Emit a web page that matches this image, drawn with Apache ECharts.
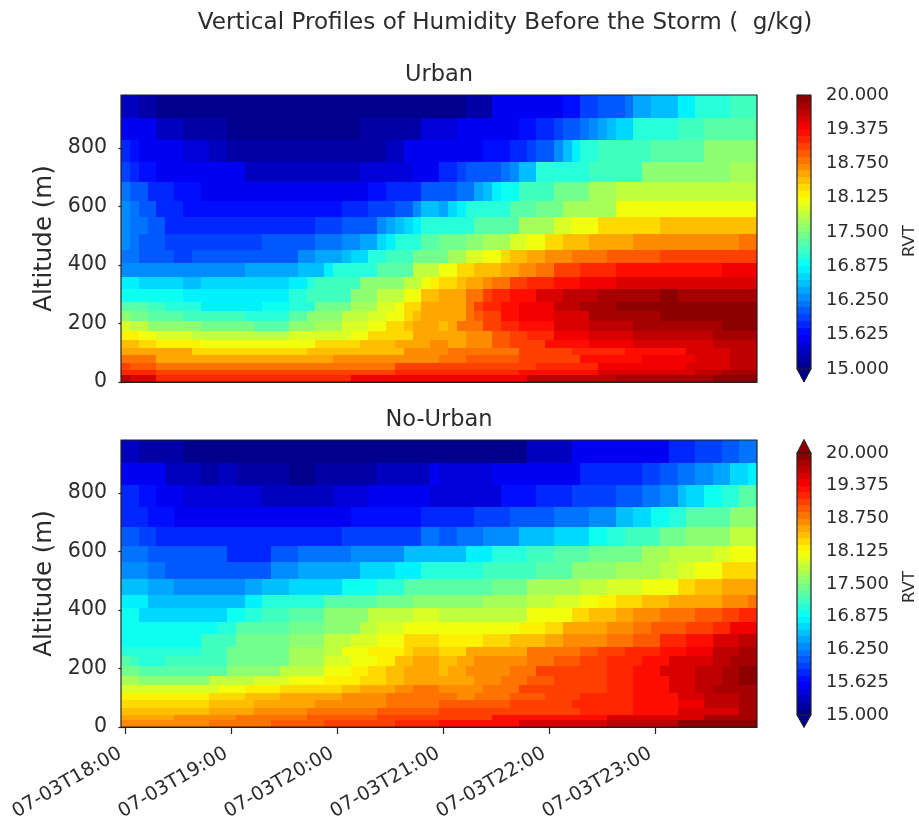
<!DOCTYPE html>
<html><head><meta charset="utf-8">
<script src="https://cdn.jsdelivr.net/npm/echarts@6/dist/echarts.min.js"></script>
<style>html,body{margin:0;padding:0;background:#fff}#c{width:919px;height:819px;filter:blur(.5px)}</style>
</head><body><div id="c"></div>
<script>
// Altitude cell edges (m), top of the picture downward
const altitudeEdges = [981,901,827,753,683,620,563,506,452,406,358,317,275,241,207,173,144,116,91,65,42,23,0];
const timeLabels = ['07-03T18:00','07-03T19:00','07-03T20:00','07-03T21:00','07-03T22:00','07-03T23:00'];
const timeTicks = [0,60,120,180,240,300];     // minutes after 18:00
const stepMinutes = 5, columnCount = 72;
const levelMin = 15, levelMax = 20, levelCount = 40;
// Each row, top to bottom, as value, end-column pairs
const urbanRows = [
[15.25,2,15.2,4,15.1,7,15,39,15.2,42,15.5,50,15.7,52,15.9,54,16,57,16.2,58,16.4,60,16.5,61,16.6,63,16.8,65,17,69,17.2,72],
[15.55,2,15.5,4,15.35,7,15.2,12,15.1,17,15,20,15.1,26,15,27,15.15,32,15.2,34,15.4,38,15.55,45,15.7,47,15.8,49,15.9,50,16,52,16.2,53,16.3,54,16.4,55,16.5,56,16.7,58,17,60,17.1,63,17.2,66,17.35,72],
[15.75,1,15.7,2,15.6,4,15.55,7,15.45,10,15.35,12,15.2,30,15.35,32,15.5,36,15.55,39,15.5,41,15.65,44,15.75,46,15.9,47,16.1,49,16.3,50,16.5,51,16.8,52,17,54,17.15,60,17.35,66,17.5,72],
[15.9,1,15.85,2,15.7,4,15.6,7,15.5,14,15.25,27,15.4,33,15.6,36,15.8,38,15.95,39,16,41,16.1,43,16.2,44,16.3,45,16.5,47,17,53,17.2,59,17.5,65,17.6,69,17.7,72],
[16.15,1,16.05,3,15.85,6,15.7,9,15.6,15,15.5,26,15.55,28,15.7,30,15.8,34,16,35,16.1,36,16,37,16.1,38,16.2,40,16.4,41,16.6,42,16.75,43,16.95,45,17.15,49,17.45,53,17.65,56,17.8,72],
[16.25,1,16.15,2,16,4,15.85,7,15.7,25,15.8,28,15.95,31,16.1,33,16.3,34,16.5,36,16.4,37,16.65,38,16.8,39,17,41,17.1,44,17.25,47,17.4,50,17.7,56,18,72],
[16.25,1,16.15,3,16,5,15.8,22,15.95,25,16.05,29,16.25,30,16.45,31,16.6,32,16.7,33,16.85,34,17,36,17.1,40,17.35,45,17.65,49,17.9,51,18.1,54,18.3,61,18.45,72],
[16.25,1,16.2,2,16.05,5,15.95,16,16.05,22,16.15,25,16.3,27,16.4,29,16.65,30,16.85,31,17.1,34,17.3,36,17.4,39,17.55,41,17.7,44,17.95,46,18.1,48,18.3,50,18.45,53,18.55,58,18.7,70,18.8,72],
[16.15,2,16.1,6,15.95,8,16.1,20,16.25,22,16.4,25,16.5,26,16.7,28,17,30,17.2,33,17.4,36,17.45,37,17.7,39,17.95,41,18.1,43,18.3,44,18.4,46,18.5,48,18.65,51,18.75,55,18.9,61,19,72],
[16.3,14,16.45,20,16.6,23,16.8,24,17.1,29,17.35,33,17.75,36,18,37,18.1,38,18.25,40,18.4,41,18.45,43,18.6,45,18.7,47,18.85,49,19,52,19.15,56,19.3,68,19.45,72],
[16.75,2,16.65,7,16.5,9,16.65,19,16.8,21,17,22,17.2,27,17.5,32,17.8,34,18.05,35,18.2,36,18.25,37,18.35,38,18.45,39,18.6,41,18.7,42,18.85,44,19,46,19.15,49,19.3,52,19.45,56,19.6,72],
[16.95,7,16.75,19,17,21,17.2,26,17.5,29,17.75,32,18.1,34,18.45,36,18.5,37,18.6,39,18.75,40,18.85,41,19,42,19.15,44,19.3,47,19.5,50,19.65,54,19.75,61,19.9,63,19.8,72],
[17.3,1,17.25,3,17.15,5,17,9,16.85,16,16.95,19,17.1,22,17.4,26,17.65,29,17.9,31,18.1,32,18.3,34,18.5,36,18.55,38,18.6,39,18.8,40,19,41,19.15,43,19.3,45,19.45,49,19.65,52,19.8,56,19.9,61,20,72],
[17.6,1,17.45,3,17.35,5,17.3,7,17.2,14,17.1,19,17.25,21,17.5,25,17.75,28,17.95,30,18.1,32,18.25,33,18.4,34,18.5,37,18.6,39,18.8,40,18.95,41,19.1,43,19.3,45,19.45,49,19.6,53,19.8,58,19.85,61,19.95,72],
[17.9,1,17.75,3,17.6,5,17.5,9,17.4,15,17.35,19,17.5,22,17.7,25,17.95,28,18.05,30,18.25,32,18.4,33,18.5,36,18.4,37,18.55,38,18.75,41,19,43,19.2,45,19.35,49,19.55,53,19.7,58,19.8,68,19.9,72],
[18.2,2,18.05,4,17.9,8,17.8,14,17.75,19,17.9,26,18.1,28,18.25,31,18.35,33,18.5,39,18.7,42,18.9,44,19.05,46,19.2,49,19.4,53,19.55,58,19.7,67,19.8,72],
[18.4,2,18.3,4,18.2,9,18.1,22,18.25,27,18.4,31,18.55,35,18.7,36,18.65,37,18.6,39,18.7,42,18.9,44,19.05,48,19.25,53,19.45,58,19.6,67,19.7,72],
[18.6,2,18.5,8,18.3,21,18.45,32,18.65,36,18.7,37,18.75,39,18.8,45,19,51,19.2,57,19.35,64,19.5,69,19.65,72],
[18.75,4,18.6,24,18.7,36,18.85,39,18.9,45,19.1,52,19.25,59,19.4,65,19.5,69,19.7,72],
[19.05,1,18.95,4,18.85,31,19,39,19.1,47,19.2,54,19.4,64,19.55,69,19.7,72],
[19.2,1,19.15,4,19.05,26,19.1,31,19.2,45,19.35,54,19.5,65,19.7,68,19.85,72],
[19.7,1,19.5,4,19.2,26,19.4,36,19.45,46,19.65,56,19.8,67,19.95,72]
];
const noUrbanRows = [
[15.3,2,15.2,4,15.15,7,15.1,17,15,27,15.1,36,15,40,15.1,46,15.3,51,15.5,59,15.6,62,15.75,65,15.9,68,16,70,16.2,72],
[15.55,2,15.5,5,15.3,9,15.15,11,15.3,13,15.15,19,15,22,15.15,29,15.3,35,15.5,36,15.45,42,15.55,47,15.6,52,15.8,59,15.9,61,16,63,16.15,65,16.3,67,16.45,69,16.65,71,16.8,72],
[15.75,2,15.65,4,15.55,7,15.45,16,15.3,24,15.45,28,15.55,35,15.45,43,15.65,47,15.75,51,15.9,56,16.05,59,16.2,61,16.3,63,16.5,64,16.65,66,16.9,68,17.1,70,17.25,72],
[15.85,1,15.8,3,15.7,6,15.6,12,15.5,23,15.55,26,15.65,34,15.8,36,15.85,40,15.95,44,16.05,49,16.2,53,16.35,56,16.5,58,16.65,60,16.95,62,17.1,64,17.3,67,17.35,69,17.5,72],
[16.05,2,15.95,4,15.85,7,15.75,21,15.85,25,15.95,34,16.15,36,16.1,38,16.2,41,16.3,45,16.5,49,16.7,53,16.95,55,17.05,57,17.2,61,17.4,64,17.55,69,17.75,72],
[16.2,3,16.1,5,16,12,15.85,17,16,20,16.15,26,16.3,32,16.5,36,16.6,39,16.8,42,17,46,17.15,49,17.3,53,17.45,59,17.65,62,17.75,67,17.9,69,18.05,72],
[16.35,3,16.2,5,16.1,17,16.25,20,16.4,27,16.65,31,16.8,34,17,37,17.05,41,17.2,47,17.35,51,17.5,56,17.65,61,17.8,63,17.9,65,18.1,68,18.3,72],
[16.6,3,16.4,6,16.25,14,16.4,16,16.55,19,16.7,25,16.95,29,17.1,32,17.3,39,17.35,42,17.45,46,17.65,52,17.8,55,17.95,59,18.1,63,18.3,65,18.4,68,18.5,72],
[16.85,1,16.8,3,16.6,14,16.75,16,17,19,17.1,23,17.25,26,17.3,29,17.4,33,17.55,38,17.6,41,17.7,46,17.8,49,17.95,52,18.05,54,18.15,56,18.3,59,18.45,62,18.55,65,18.6,68,18.7,71,18.8,72],
[16.95,2,16.7,12,16.9,14,17.05,16,17.15,19,17.35,23,17.5,26,17.6,28,17.8,33,17.9,36,17.8,41,17.85,46,18,49,18.1,51,18.25,53,18.4,56,18.55,58,18.65,61,18.75,65,18.9,68,19.05,70,19.15,72],
[16.9,11,17.1,13,17.25,19,17.45,23,17.6,27,17.8,29,17.95,32,18,35,18.1,36,18.05,37,18,40,18.05,45,18.2,48,18.35,50,18.5,53,18.55,55,18.7,58,18.75,60,18.9,64,19.05,67,19.2,69,19.4,72],
[16.95,9,17.15,13,17.4,19,17.6,23,17.75,26,17.95,29,18.1,32,18.25,36,18.2,41,18.35,44,18.45,48,18.55,50,18.65,53,18.7,55,18.85,58,18.95,61,19.15,64,19.3,67,19.5,70,19.65,72],
[17.1,1,17.05,5,17,9,17.2,12,17.45,19,17.7,23,17.85,25,18,28,18.15,32,18.3,33,18.4,36,18.35,39,18.5,42,18.6,46,18.75,49,18.8,52,18.9,54,19,57,19.15,61,19.3,64,19.45,67,19.65,70,19.8,72],
[17.25,1,17.15,2,17.1,5,17.2,12,17.45,19,17.7,23,17.95,26,18.1,29,18.2,31,18.4,33,18.5,36,18.45,38,18.6,40,18.65,42,18.7,46,18.85,49,18.95,52,19.05,55,19.15,59,19.3,62,19.5,67,19.65,69,19.75,70,19.85,72],
[17.45,2,17.35,12,17.55,18,17.8,23,18.05,26,18.15,28,18.3,30,18.4,32,18.5,36,18.45,37,18.55,39,18.65,42,18.7,44,18.85,47,19,51,19.1,55,19.2,58,19.3,61,19.5,62,19.55,65,19.7,68,19.85,70,19.9,72],
[17.7,2,17.6,6,17.55,10,17.75,15,17.9,19,18.05,23,18.15,27,18.3,30,18.4,32,18.55,33,18.6,36,18.5,37,18.6,40,18.7,43,18.8,46,18.95,49,19,51,19.1,55,19.2,58,19.35,62,19.5,65,19.7,68,19.85,70,19.95,72],
[17.95,6,17.9,11,18.05,14,18.15,18,18.25,21,18.35,25,18.4,27,18.5,31,18.65,33,18.75,36,18.7,41,18.85,45,19,50,19.1,55,19.2,58,19.35,62,19.55,65,19.7,67,19.75,70,19.85,72],
[18.15,10,18.3,14,18.4,18,18.5,21,18.55,25,18.65,30,18.75,33,18.8,36,18.75,38,18.7,40,18.8,44,18.95,48,19.05,52,19.2,58,19.35,63,19.55,66,19.7,70,19.85,72],
[18.3,10,18.45,15,18.55,22,18.7,30,18.85,36,18.95,38,18.9,40,18.95,44,19.05,51,19.2,58,19.3,63,19.45,66,19.65,70,19.8,72],
[18.4,6,18.45,10,18.6,15,18.65,21,18.8,29,18.95,36,19,45,19.1,52,19.2,58,19.3,63,19.5,66,19.6,70,19.8,72],
[18.5,6,18.65,13,18.8,21,18.9,29,19.1,42,19.25,49,19.35,55,19.5,61,19.6,66,19.8,72],
[18.65,10,18.75,17,18.9,23,19,31,19.15,36,19.3,45,19.5,55,19.7,63,19.9,72]
];

// "jet" colour map segments
const jetR = [[0,0],[.375,0],[.625,1],[.875,1],[1,.5]];
const jetG = [[0,0],[.125,0],[.375,1],[.625,1],[.875,0],[1,0]];
const jetB = [[0,.5],[.125,1],[.375,1],[.625,0],[1,0]];
function seg(s,x){for(let i=1;i<s.length;i++){if(x<=s[i][0]){const a=s[i-1],b=s[i];return a[1]+(b[1]-a[1])*(x-a[0])/(b[0]-a[0]);}}return s[s.length-1][1];}
function jet(x){return 'rgb('+[jetR,jetG,jetB].map(s=>Math.round(255*seg(s,x))).join(',')+')';}
const levelStep=(levelMax-levelMin)/levelCount;
function levelColor(v){let i=Math.floor((v-levelMin)/levelStep);i=Math.max(0,Math.min(levelCount-1,i));return jet((i+.5)/levelCount);}

function cells(rows){const out=[];rows.forEach((r,ri)=>{let c=0;for(let k=0;k<r.length;k+=2){for(;c<r[k+1];c++){out.push([(c-.5)*stepMinutes,(c+.5)*stepMinutes,altitudeEdges[ri+1],altitudeEdges[ri],r[k]]);}}});return out;}
function cellItem(params,api){const a=api.coord([api.value(0),api.value(3)]),b=api.coord([api.value(1),api.value(2)]);
  const x0=Math.round(a[0]),y0=Math.round(a[1]),x1=Math.round(b[0]),y1=Math.round(b[1]);
  return {type:'rect',shape:{x:x0,y:y0,width:x1-x0,height:y1-y0},style:{fill:levelColor(api.value(4))}};}
function frameItem(params,api){const a=api.coord([api.value(0),api.value(1)]),b=api.coord([api.value(2),api.value(3)]);
  return {type:'rect',shape:{x:a[0],y:a[1],width:b[0]-a[0],height:b[1]-a[1]},style:{fill:'none',stroke:'#222',lineWidth:1.2}};}
const barCells=[];for(let i=0;i<levelCount;i++)barCells.push([0,1,levelMin+i*levelStep,levelMin+(i+1)*levelStep,levelMin+(i+.5)*levelStep]);
function arrowItem(params,api){const p=[[0,api.value(0)],[1,api.value(0)],[.5,api.value(1)]].map(q=>api.coord(q));
  return {type:'polygon',shape:{points:p},style:{fill:levelColor(api.value(2)),stroke:'#222',lineWidth:1}};}

const textC='#2b2b2b', font='DejaVu Sans';
const xMin=-.5*stepMinutes, xMax=(columnCount-.5)*stepMinutes;
function yAxis(i,name){return {gridIndex:i,type:'value',min:0,max:altitudeEdges[0],interval:200,name:name,nameLocation:'middle',nameGap:63,nameRotate:90,
  nameTextStyle:{color:textC,fontFamily:font,fontSize:24.5},splitLine:{show:false},axisLine:{show:true,lineStyle:{color:'#222'}},
  axisTick:{show:true,length:7,lineStyle:{color:'#222',width:1.2}},axisLabel:{color:textC,fontFamily:font,fontSize:20.5,margin:14,showMaxLabel:false}};}
function xAxis(i,labels){return {gridIndex:i,type:'value',min:xMin,max:xMax,splitLine:{show:false},axisLine:{show:true,onZero:false,lineStyle:{color:'#222'}},
  axisTick:{show:labels,length:7,customValues:timeTicks,lineStyle:{color:'#222',width:1.2}},
  axisLabel:{show:labels,customValues:timeTicks,rotate:30,margin:22,padding:[0,6,0,0],color:textC,fontFamily:font,fontSize:19.2,
    formatter:v=>timeLabels[timeTicks.indexOf(v)]||''}};}
function barYAxis(i,pad){return {gridIndex:i,type:'value',position:'right',min:levelMin,max:levelMax,interval:.625,splitLine:{show:false},axisLine:{show:false},
  axisTick:{show:true,length:7,lineStyle:{color:'#222',width:1.2}},axisLabel:{color:textC,fontFamily:font,fontSize:18,margin:15,showMinLabel:true,showMaxLabel:true,formatter:v=>v.toFixed(3)},
  name:'RVT',nameLocation:'middle',nameGap:90,nameRotate:90,nameTextStyle:{color:textC,fontFamily:font,fontSize:16.5,padding:[0,pad,0,0]}};}
function barXAxis(i){return {gridIndex:i,type:'value',min:0,max:1,show:false};}
function cellSeries(i,data){return {type:'custom',xAxisIndex:i,yAxisIndex:i,renderItem:cellItem,data:data,encode:{x:[0,1],y:[2,3]},silent:true,animation:false,clip:true};}
function frameSeries(i,d){return {type:'custom',xAxisIndex:i,yAxisIndex:i,renderItem:frameItem,data:[d],silent:true,animation:false,clip:false,z:5};}
function arrowSeries(i,d){return {type:'custom',xAxisIndex:i,yAxisIndex:i,renderItem:arrowItem,data:d,silent:true,animation:false,clip:false,z:1};}

const chart=echarts.init(document.getElementById('c'),null,{width:919,height:819});
const titleStyle=s=>({color:textC,fontFamily:font,fontSize:s,fontWeight:'normal'});
const gridBase={outerBoundsMode:'none',containLabel:false};
chart.setOption({animation:false,backgroundColor:'#fff',
 title:[
  {text:'Vertical Profiles of Humidity Before the Storm (  g/kg)',left:500,top:6,textAlign:'center',textStyle:titleStyle(23.1)},
  {text:'Urban',left:434,top:59,textAlign:'center',textStyle:titleStyle(22.5)},
  {text:'No-Urban',left:434,top:404,textAlign:'center',textStyle:titleStyle(22.5)}
 ],
 grid:[
  {...gridBase,left:121,top:95,width:636,height:287},
  {...gridBase,left:121,top:440,width:636,height:287},
  {...gridBase,left:797,top:95,width:14,height:274},
  {...gridBase,left:797,top:453,width:14,height:262}
 ],
 xAxis:[xAxis(0,false),xAxis(1,true),barXAxis(2),barXAxis(3)],
 yAxis:[yAxis(0,'Altitude (m)'),yAxis(1,'Altitude (m)'),barYAxis(2,18),barYAxis(3,6)],
 series:[
  cellSeries(0,cells(urbanRows)),frameSeries(0,[xMin,altitudeEdges[0],xMax,0]),
  cellSeries(1,cells(noUrbanRows)),frameSeries(1,[xMin,altitudeEdges[0],xMax,0]),
  cellSeries(2,barCells),frameSeries(2,[0,20,1,15]),arrowSeries(2,[[15,14.76,15]]),
  cellSeries(3,barCells),frameSeries(3,[0,20,1,15]),arrowSeries(3,[[15,14.76,15],[20,20.26,20]])
 ]});
</script></body></html>
